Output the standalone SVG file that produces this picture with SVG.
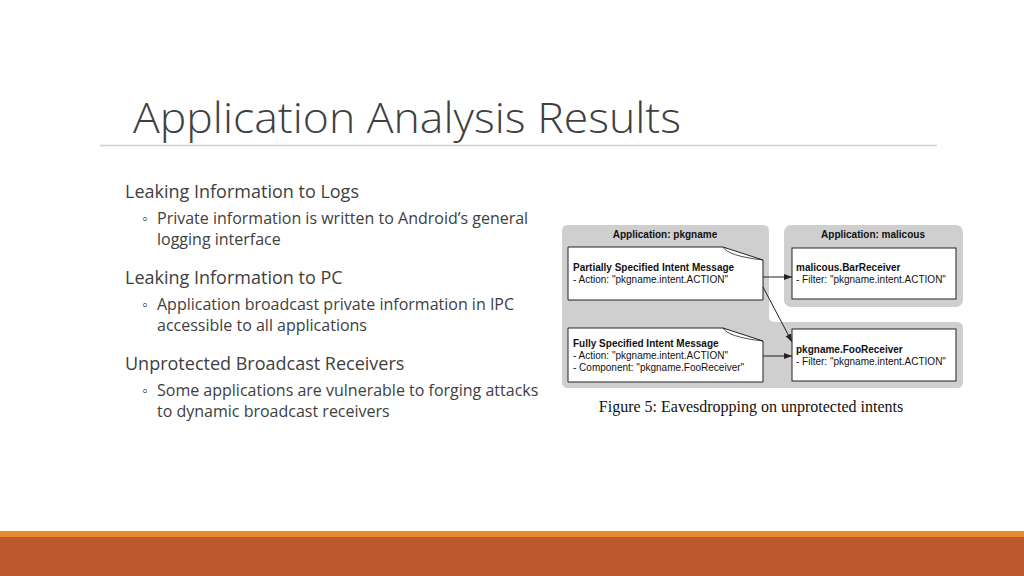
<svg xmlns="http://www.w3.org/2000/svg" width="1024" height="576" viewBox="0 0 1024 576">
<style>
.t{font-family:"Open Sans","Liberation Sans",sans-serif;fill:#404040}
.h{font-size:18px}.s{font-size:16px}
.n{fill:#fff;stroke:#222;stroke-width:1}
.f{font-family:"Liberation Sans",Arial,sans-serif;font-size:10px;fill:#111}
.b{font-weight:bold}
.c{stroke:#222;stroke-width:1;fill:none;marker-end:url(#a)}
</style>
<defs><marker id="a" markerWidth="8" markerHeight="8" refX="8" refY="4" orient="auto" markerUnits="userSpaceOnUse"><path d="M0,1 L8,4 L0,7z" fill="#222"/></marker></defs>
<rect width="1024" height="576" fill="#fff"/>
<text x="133" y="133" class="t" font-size="43" font-weight="300" fill="#404040" textLength="548" lengthAdjust="spacingAndGlyphs">Application Analysis Results</text>
<line x1="100" y1="145.5" x2="937" y2="145.5" stroke="#d0d0d0" stroke-width="1.5"/>
<g id="bullets">
<text x="125" y="198" class="t h">Leaking Information to Logs</text>
<text x="142" y="224" class="t s">◦</text><text x="157" y="224" class="t s">Private information is written to Android’s general</text>
<text x="157" y="245" class="t s">logging interface</text>
<text x="125" y="284" class="t h">Leaking Information to PC</text>
<text x="142" y="310" class="t s">◦</text><text x="157" y="310" class="t s">Application broadcast private information in IPC</text>
<text x="157" y="331" class="t s">accessible to all applications</text>
<text x="125" y="370" class="t h">Unprotected Broadcast Receivers</text>
<text x="142" y="396" class="t s">◦</text><text x="157" y="396" class="t s">Some applications are vulnerable to forging attacks</text>
<text x="157" y="417" class="t s">to dynamic broadcast receivers</text>
</g>
<g id="app-pkgname">
<path d="M568,225 H763 Q769,225 769,231 V316 Q769,322 775,322 H957 Q963,322 963,328 V382 Q963,388 957,388 H568 Q562,388 562,382 V231 Q562,225 568,225Z" fill="#cfcfcf"/>
<text x="665" y="238" class="f b" text-anchor="middle">Application: pkgname</text>
</g>
<g id="app-malicous">
<rect x="784" y="225" width="179" height="82" rx="7" fill="#cfcfcf"/>
<text x="873" y="238" class="f b" text-anchor="middle">Application: malicous</text>
</g>
<g id="partial">
<path class="n" d="M568,247 H723 L763,260 V300 H568Z"/>
<path d="M723,247 Q728,256 763,260" fill="none" stroke="#222" stroke-width="0.8"/>
<text x="573" y="271" class="f b">Partially Specified Intent Message</text>
<text x="573" y="283" class="f">- Action: "pkgname.intent.ACTION"</text>
</g>
<g id="full">
<path class="n" d="M568,328 H723 L763,341 V382 H568Z"/>
<path d="M723,328 Q728,337 763,341" fill="none" stroke="#222" stroke-width="0.8"/>
<text x="573" y="347" class="f b">Fully Specified Intent Message</text>
<text x="573" y="359" class="f">- Action: "pkgname.intent.ACTION"</text>
<text x="573" y="371" class="f">- Component: "pkgname.FooReceiver"</text>
</g>
<g id="bar">
<rect class="n" x="792" y="248" width="164" height="51"/>
<text x="796" y="271" class="f b">malicous.BarReceiver</text>
<text x="796" y="283" class="f">- Filter: "pkgname.intent.ACTION"</text>
</g>
<g id="foo">
<rect class="n" x="792" y="329" width="164" height="52"/>
<text x="796" y="353" class="f b">pkgname.FooReceiver</text>
<text x="796" y="365" class="f">- Filter: "pkgname.intent.ACTION"</text>
</g>
<g id="connectors">
<line class="c" x1="763" y1="277" x2="792" y2="277"/>
<line class="c" x1="763" y1="287" x2="792" y2="342"/>
<line class="c" x1="763" y1="356" x2="792" y2="356"/>
</g>
<text x="751" y="412" font-family="Liberation Serif,serif" font-size="16" fill="#111" text-anchor="middle">Figure 5: Eavesdropping on unprotected intents</text>
<rect x="0" y="531" width="1024" height="6" fill="#e8892e"/>
<rect x="0" y="537" width="1024" height="39" fill="#bd582c"/>
</svg>
